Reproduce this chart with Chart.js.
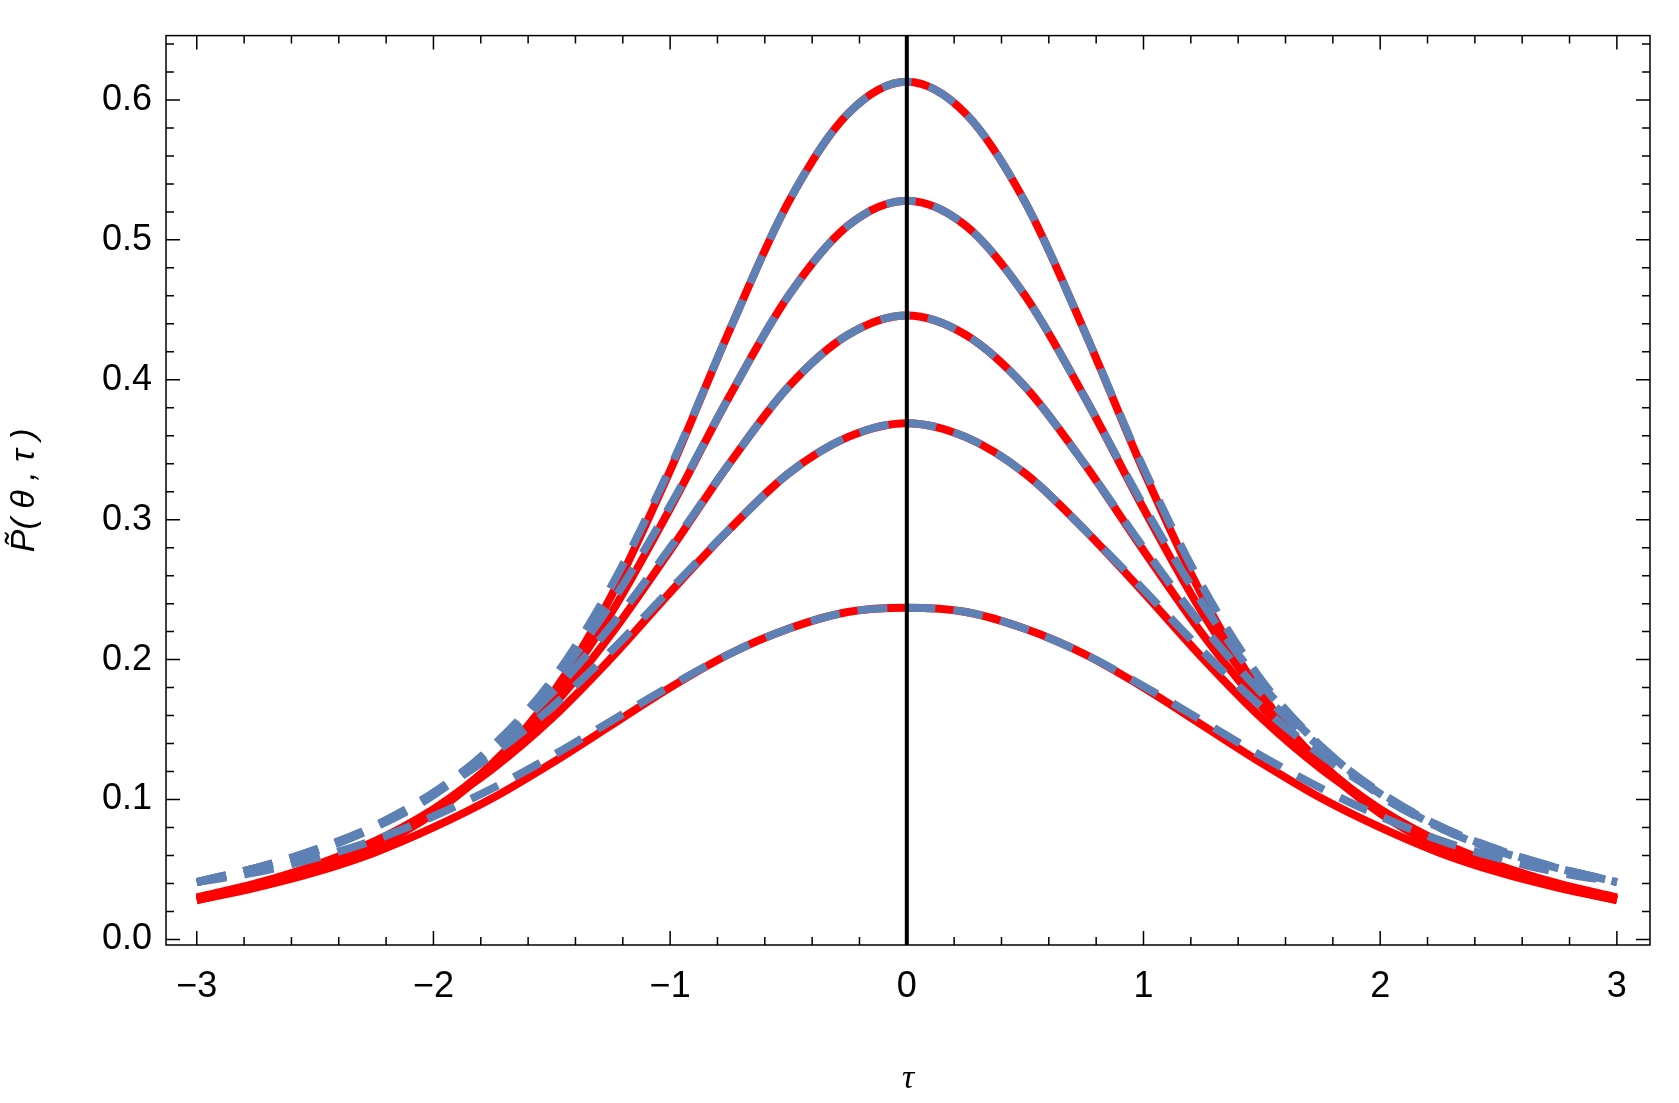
<!DOCTYPE html>
<html>
<head>
<meta charset="utf-8">
<script src="https://cdn.jsdelivr.net/npm/chart.js@4.4.1/dist/chart.umd.min.js"></script>
<style>
  html, body { margin: 0; padding: 0; background: #fff; }
  #wrap { width: 1679px; height: 1103px; }
</style>
</head>
<body>
<div id="wrap"><canvas id="c"></canvas></div>
<script>
// tau grid (right half, curves are symmetric)
const tauHalf = [0, 0.25, 0.5, 0.75, 1, 1.25, 1.5, 1.75, 2, 2.25, 2.5, 2.75, 3];

// red solid curves
const redA = [0.613, 0.590, 0.527, 0.435, 0.335, 0.245, 0.175, 0.125, 0.090, 0.066, 0.050, 0.038, 0.028];
const redB = [0.528, 0.510, 0.460, 0.388, 0.308, 0.233, 0.172, 0.126, 0.092, 0.067, 0.050, 0.038, 0.029];
const redC = [0.446, 0.432, 0.395, 0.340, 0.278, 0.218, 0.166, 0.125, 0.093, 0.069, 0.051, 0.039, 0.029];
const redD = [0.369, 0.359, 0.333, 0.293, 0.248, 0.201, 0.158, 0.122, 0.093, 0.070, 0.053, 0.040, 0.030];
const redE = [0.237, 0.234, 0.222, 0.204, 0.180, 0.153, 0.126, 0.101, 0.080, 0.062, 0.048, 0.037, 0.028];

// blue dashed curves (heavier tails)
const blueA = [0.613, 0.590, 0.527, 0.435, 0.337, 0.252, 0.185, 0.138, 0.103, 0.080, 0.063, 0.051, 0.041];
const blueB = [0.528, 0.510, 0.460, 0.388, 0.310, 0.240, 0.182, 0.138, 0.104, 0.080, 0.063, 0.051, 0.041];
const blueC = [0.446, 0.432, 0.395, 0.340, 0.280, 0.224, 0.176, 0.137, 0.105, 0.081, 0.064, 0.051, 0.041];
const blueD = [0.369, 0.359, 0.333, 0.293, 0.250, 0.206, 0.166, 0.132, 0.104, 0.081, 0.064, 0.051, 0.041];
const blueE = [0.237, 0.234, 0.222, 0.204, 0.181, 0.156, 0.131, 0.108, 0.088, 0.071, 0.058, 0.048, 0.041];

const xTicks = [-3, -2, -1, 0, 1, 2, 3];
const yTicks = [0.0, 0.1, 0.2, 0.3, 0.4, 0.5, 0.6];

function mirror(vals) {
    const pts = [];
    for (let i = tauHalf.length - 1; i > 0; i--) pts.push({ x: -tauHalf[i], y: vals[i] });
    for (let i = 0; i < tauHalf.length; i++) pts.push({ x: tauHalf[i], y: vals[i] });
    return pts;
}

const RED = '#ff0000', BLUE = '#5e81b5';
const datasets = [];
[redA, redB, redC, redD, redE].forEach(v => datasets.push({
    data: mirror(v), borderColor: RED, borderWidth: 8, pointRadius: 0, cubicInterpolationMode: 'monotone', order: 3
}));
[blueA, blueB, blueC, blueD, blueE].forEach(v => datasets.push({
    data: mirror(v), borderColor: BLUE, borderWidth: 8, borderDash: [30, 18], pointRadius: 0, cubicInterpolationMode: 'monotone', order: 2
}));
// vertical line at tau = 0
datasets.push({ data: [{ x: 0, y: -0.004 }, { x: 0, y: 0.646 }], borderColor: '#000', borderWidth: 4, pointRadius: 0, order: 1 });

// frame ticks on all four sides, pointing inward
const frameTicks = {
    id: 'frameTicks',
    afterDraw(chart) {
        const { ctx, chartArea: a, scales: { x, y } } = chart;
        ctx.save();
        ctx.strokeStyle = '#000';
        ctx.lineWidth = 1.5;
        ctx.strokeRect(a.left, a.top, a.right - a.left, a.bottom - a.top);
        ctx.beginPath();
        for (let i = -16; i <= 16; i++) {
            const v = i / 5, px = x.getPixelForValue(v);
            if (px < a.left || px > a.right) continue;
            const len = i % 5 === 0 ? 14 : 8;
            ctx.moveTo(px, a.bottom); ctx.lineTo(px, a.bottom - len);
            ctx.moveTo(px, a.top); ctx.lineTo(px, a.top + len);
        }
        for (let i = 0; i <= 32; i++) {
            const v = i / 50, py = y.getPixelForValue(v);
            if (py < a.top || py > a.bottom) continue;
            const len = i % 5 === 0 ? 14 : 8;
            ctx.moveTo(a.left, py); ctx.lineTo(a.left + len, py);
            ctx.moveTo(a.right, py); ctx.lineTo(a.right - len, py);
        }
        ctx.stroke();
        ctx.restore();
    }
};

new Chart(document.getElementById('c'), {
    type: 'line',
    data: { datasets },
    plugins: [frameTicks],
    options: {
        responsive: true,
        maintainAspectRatio: false,
        animation: false,
        layout: { padding: { top: 10, right: 29 } },
        plugins: { legend: { display: false }, tooltip: { enabled: false } },
        scales: {
            x: {
                type: 'linear', min: -3.13, max: 3.14,
                afterBuildTicks: s => { s.ticks = xTicks.map(v => ({ value: v })); },
                afterFit: s => { s.height = 158; },
                grid: { display: false, drawTicks: false },
                border: { display: false },
                ticks: {
                    padding: 20, color: '#000',
                    font: { family: 'Liberation Sans', size: 36 },
                    callback: v => (v < 0 ? '\u2212' + Math.abs(v) : String(v))
                },
                title: {
                    display: true, text: 'τ', color: '#000',
                    font: { family: 'Liberation Serif', size: 34, style: 'italic' },
                    padding: { top: 36 }
                }
            },
            y: {
                min: -0.004, max: 0.646,
                afterBuildTicks: s => { s.ticks = yTicks.map(v => ({ value: v })); },
                afterFit: s => { s.width = 166; },
                grid: { display: false, drawTicks: false },
                border: { display: false },
                ticks: {
                    padding: 14, color: '#000',
                    font: { family: 'Liberation Sans', size: 36 },
                    callback: v => v.toFixed(1)
                },
                title: {
                    display: true, text: 'P\u0303( θ , τ )', color: '#000',
                    font: { family: 'Liberation Sans', size: 34, style: 'italic' },
                    padding: { bottom: 8 }
                }
            }
        }
    }
});
</script>
</body>
</html>
